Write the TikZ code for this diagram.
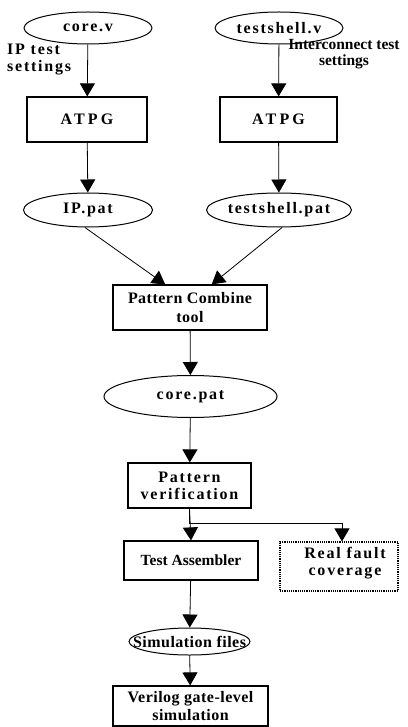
\documentclass[tikz,border=0pt]{standalone}
\usepackage{fontspec}
\setmainfont{Liberation Serif}
\newfontfamily\wfont[LetterSpace=11]{Liberation Serif}
\newfontfamily\wwfont[LetterSpace=20]{Liberation Serif}
\newfontfamily\sfont[LetterSpace=3]{Liberation Serif}
\usetikzlibrary{shapes.geometric,arrows.meta,calc}
\begin{document}
\begin{tikzpicture}[x=1pt,y=-1pt,
  every node/.style={font=\bfseries\fontsize{15.5}{17.5}\selectfont},
  wide/.style={font=\wfont\bfseries\fontsize{16}{17}\selectfont},
  wider/.style={font=\wwfont\bfseries\fontsize{16}{17.5}\selectfont},
  slight/.style={font=\sfont\bfseries\fontsize{16}{18.5}\selectfont},
  oval/.style={ellipse,draw,line width=1pt,inner sep=0pt},
  box/.style={rectangle,draw,line width=1.2pt,inner sep=0pt,align=center},
  dbox/.style={rectangle,draw,densely dotted,line width=1.2pt,inner sep=0pt,align=center},
  conn/.style={line width=0.8pt,-{Triangle[width=15pt,length=13pt]}},
  lbl/.style={inner sep=0pt}]
\path[use as bounding box] (0,0) rectangle (407,727);

\node[oval,wide,minimum width=128pt,minimum height=32pt] (corev) at (88,28) {core.v};
\node[oval,wide,minimum width=128pt,minimum height=32pt] (tsv) at (279,28) {testshell.v};
\node[box,wider,minimum width=120pt,minimum height=45pt] (atpg1) at (87,119.5) {ATPG};
\node[box,wider,minimum width=117pt,minimum height=45pt] (atpg2) at (278.5,119.5) {ATPG};
\node[oval,wide,minimum width=129pt,minimum height=34pt] (ippat) at (88,210) {IP.pat};
\node[oval,wide,minimum width=128pt,minimum height=34pt] (tspat) at (279,210) {testshell.pat};
\node[box,slight,minimum width=154pt,minimum height=45pt] (combine) at (190,307.5) {Pattern Combine\\tool};
\node[oval,wide,minimum width=173pt,minimum height=42pt] (corepat) at (190.5,396.5) {core.pat};
\node[box,wide,minimum width=123pt,minimum height=45pt] (verif) at (189.5,485.5) {Pattern\\verification};
\node[box,minimum width=134pt,minimum height=39pt] (tassm) at (191,560.5) {Test Assembler};
\node[dbox,minimum width=118pt,minimum height=49pt,
      label={[wide,align=center,xshift=6pt,yshift=3pt]center:Real fault\\coverage}] (real) at (339,566.5) {};
\node[oval,minimum width=121pt,minimum height=27pt,
      label={[slight]center:Simulation files}] (sim) at (189.5,641.5) {};
\node[box,slight,minimum width=155pt,minimum height=40pt] (verilog) at (190.5,706) {Verilog gate-level\\simulation};

\node[lbl,wide,anchor=west,align=left] (iplbl) at (7,60) {IP test\\settings};
\node[lbl,align=center,font=\bfseries\fontsize{15.5}{16}\selectfont] (iclbl) at (344,54) {Interconnect test\\settings};

\draw[conn] (corev) -- (atpg1);
\draw[conn] (tsv) -- (atpg2);
\draw[conn] (atpg1) -- (ippat);
\draw[conn] (atpg2) -- (tspat);
\draw[conn] (ippat.-100) -- ($(combine.north west)!0.34!(combine.north east)$);
\draw[conn] (tspat.-80) -- ($(combine.north west)!0.64!(combine.north east)$);
\draw[conn] (combine) -- (corepat);
\draw[conn] (corepat) -- (verif);
\draw[conn] (verif.south) -- (tassm.north);
\draw[conn] (verif.south) -- ++(0,15) -| ($(real.north)+(3,0)$);
\draw[conn] (tassm) -- (sim);
\draw[conn] (sim) -- (verilog);
\end{tikzpicture}
\end{document}
